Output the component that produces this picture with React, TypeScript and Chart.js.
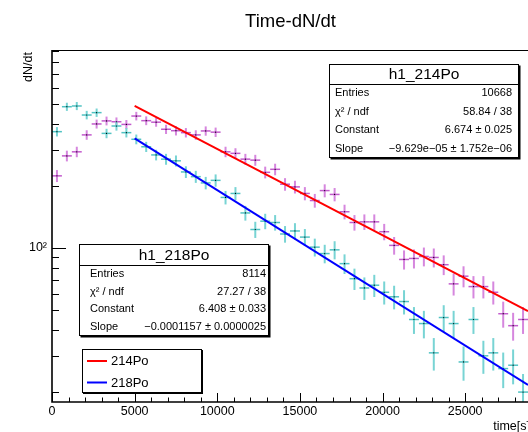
import React, { useEffect, useRef } from 'react';
import { Chart, registerables } from 'chart.js';

Chart.register(...registerables);

// ---------- data ----------
const binCenters = [
  300, 900, 1500, 2100, 2700, 3300, 3900, 4500, 5100, 5700, 6300, 6900,
  7500, 8100, 8700, 9300, 9900, 10500, 11100, 11700, 12300, 12900, 13500, 14100,
  14700, 15300, 15900, 16500, 17100, 17700, 18300, 18900, 19500, 20100, 20700, 21300,
  21900, 22500, 23100, 23700, 24300, 24900, 25500, 26100, 26700, 27300, 27900, 28500,
];
const binWidth = 600;

const counts214Po = [
  224, 280, 293, 354, 400, 414, 410, 398, 437, 415, 408, 377,
  371, 363, 354, 370, 365, 293, 288, 270, 267, 233, 241, 204,
  198, 184, 170, 190, 182, 150, 133, 134, 134, 120, 103, 88,
  89, 91, 90, 83, 67, 73, 65, 65, 61, 48, 42, 45,
];
const counts218Po = [
  367, 485, 489, 442, 454, 360, 391, 363, 337, 310, 283, 270,
  265, 234, 222, 207, 213, 176, 184, 148, 123, 135, 133, 117,
  121, 113, 101, 94, 98, 84, 71, 64, 66, 61, 58, 55,
  45, 43, 31, 46, 43, 28, 45, 30, 31, 26, 27, 20,
];

const fitRange = [5000, 28800];
const fit214Constant = 6.674;
const fit214Slope = -9.629e-5;
const fit218Constant = 6.408;
const fit218Slope = -0.0001157;

const xMin = 0;
const xMax = 28800;
const yMin = 17.9;
const yMax = 914;
const xMajorTicks = [0, 5000, 10000, 15000, 20000, 25000];
const xTickLabels = ['0', '5000', '10000', '15000', '20000', '25000'];
const xMinorTicks = [
  1000, 2000, 3000, 4000, 6000, 7000, 8000, 9000, 11000, 12000, 13000, 14000,
  16000, 17000, 18000, 19000, 21000, 22000, 23000, 24000, 26000, 27000, 28000,
];
const yMajorTicks = [100];
const yMinorTicks = [20, 30, 40, 50, 60, 70, 80, 90, 200, 300, 400, 500, 600, 700, 800, 900];

const stats214 = {
  title: 'h1_214Po',
  rows: [
    ['Entries', '10668'],
    ['\u03C7\u00B2 / ndf', '58.84 / 38'],
    ['Constant', '6.674 \u00B1 0.025'],
    ['Slope', '\u22129.629e\u221205 \u00B1 1.752e\u221206'],
  ],
};
const stats218 = {
  title: 'h1_218Po',
  rows: [
    ['Entries', '8114'],
    ['\u03C7\u00B2 / ndf', '27.27 / 38'],
    ['Constant', '6.408 \u00B1 0.033'],
    ['Slope', '\u22120.0001157 \u00B1 0.0000025'],
  ],
};
const legendLabels = ['214Po', '218Po'];

// ---------- style ----------
const FONT = '"Liberation Sans", Arial, Helvetica, sans-serif';
const MAGENTA_V = 'rgb(214, 135, 222)';
const MAGENTA_H = 'rgb(195, 90, 205)';
const CYAN_V = 'rgb(120, 212, 212)';
const CYAN_H = 'rgb(80, 195, 195)';
const RED = '#ff0000';
const BLUE = '#0000ff';

function drawStatsBox(ctx: CanvasRenderingContext2D, b: any, s: any) {
  const w = b.x2 - b.x1;
  const h = b.y2 - b.y1;
  ctx.fillStyle = '#000';
  ctx.fillRect(b.x1 + 1.5, b.y1 + 1.5, w, h);
  ctx.fillStyle = '#fff';
  ctx.fillRect(b.x1, b.y1, w, h);
  ctx.strokeStyle = '#000';
  ctx.lineWidth = 1;
  ctx.strokeRect(b.x1 + 0.5, b.y1 + 0.5, w - 1, h - 1);
  ctx.beginPath();
  ctx.moveTo(b.x1, b.sep + 0.5);
  ctx.lineTo(b.x2, b.sep + 0.5);
  ctx.stroke();
  ctx.fillStyle = '#000';
  ctx.textBaseline = 'middle';
  ctx.textAlign = 'center';
  ctx.font = `15.5px ${FONT}`;
  ctx.fillText(s.title, (b.x1 + b.x2) / 2, (b.y1 + b.sep) / 2 + 1);
  ctx.font = `11px ${FONT}`;
  const rh = (b.y2 - b.sep) / s.rows.length;
  s.rows.forEach((r: string[], i: number) => {
    const cy = b.sep + (i + 0.5) * rh;
    ctx.textAlign = 'left';
    ctx.fillText(r[0], b.lx, cy);
    ctx.textAlign = 'right';
    ctx.fillText(r[1], b.rx, cy);
  });
}

const rootPlugin = {
  id: 'rootStyle',
  beforeDatasetsDraw(chart: any) {
    const { ctx, chartArea: a } = chart;
    const x = chart.scales.x;
    const y = chart.scales.y;
    ctx.save();
    ctx.beginPath();
    ctx.rect(a.left, a.top, a.right - a.left, a.bottom - a.top);
    ctx.clip();
    const drawBars = (vals: number[], colV: string, colH: string) => {
      vals.forEach((n, i) => {
        const t = binCenters[i];
        const e = Math.sqrt(n);
        const px = x.getPixelForValue(t);
        const py = y.getPixelForValue(n);
        const x0 = x.getPixelForValue(t - binWidth / 2);
        const x1 = x.getPixelForValue(t + binWidth / 2);
        const yt = y.getPixelForValue(n + e);
        const yb = y.getPixelForValue(Math.max(n - e, 0.5));
        ctx.strokeStyle = colV;
        ctx.lineWidth = 2;
        ctx.beginPath();
        ctx.moveTo(px, yt);
        ctx.lineTo(px, yb);
        ctx.stroke();
        ctx.strokeStyle = colH;
        ctx.lineWidth = 1.5;
        ctx.beginPath();
        ctx.moveTo(x0, py);
        ctx.lineTo(x1, py);
        ctx.stroke();
      });
    };
    drawBars(counts214Po, MAGENTA_V, MAGENTA_H);
    drawBars(counts218Po, CYAN_V, CYAN_H);
    ctx.restore();
  },
  afterDraw(chart: any) {
    const { ctx, chartArea: a } = chart;
    const x = chart.scales.x;
    const y = chart.scales.y;
    ctx.save();
    // frame
    ctx.strokeStyle = '#000';
    ctx.lineWidth = 1;
    ctx.beginPath();
    ctx.moveTo(a.left, a.top + 0.5);
    ctx.lineTo(a.right, a.top + 0.5);
    ctx.stroke();
    ctx.lineWidth = 1.6;
    ctx.beginPath();
    ctx.moveTo(a.left, a.top);
    ctx.lineTo(a.left, a.bottom);
    ctx.lineTo(a.right, a.bottom);
    ctx.stroke();
    // ticks
    ctx.lineWidth = 1;
    ctx.beginPath();
    xMajorTicks.forEach((t) => {
      const px = Math.round(x.getPixelForValue(t)) + 0.5;
      ctx.moveTo(px, a.bottom);
      ctx.lineTo(px, a.bottom - 9);
    });
    xMinorTicks.forEach((t) => {
      const px = Math.round(x.getPixelForValue(t)) + 0.5;
      ctx.moveTo(px, a.bottom);
      ctx.lineTo(px, a.bottom - 4.5);
    });
    yMajorTicks.forEach((v) => {
      const py = Math.round(y.getPixelForValue(v)) + 0.5;
      ctx.moveTo(a.left, py);
      ctx.lineTo(a.left + 14, py);
    });
    yMinorTicks.forEach((v) => {
      const py = Math.round(y.getPixelForValue(v)) + 0.5;
      ctx.moveTo(a.left, py);
      ctx.lineTo(a.left + 7, py);
    });
    ctx.stroke();

    // x tick labels
    ctx.fillStyle = '#000';
    ctx.font = `12.5px ${FONT}`;
    ctx.textAlign = 'center';
    ctx.textBaseline = 'middle';
    xMajorTicks.forEach((t, i) => {
      ctx.fillText(xTickLabels[i], x.getPixelForValue(t), 411.5);
    });

    // title
    ctx.font = `18.5px ${FONT}`;
    ctx.textAlign = 'center';
    ctx.textBaseline = 'middle';
    ctx.fillText('Time-dN/dt', 290.5, 22);

    // axis titles
    ctx.font = `12.5px ${FONT}`;
    ctx.textAlign = 'right';
    ctx.fillText('time[s]', 530, 427);
    ctx.save();
    ctx.translate(28.5, 52);
    ctx.rotate(-Math.PI / 2);
    ctx.textAlign = 'right';
    ctx.textBaseline = 'middle';
    ctx.fillText('dN/dt', 0, 0);
    ctx.restore();

    // stats boxes
    drawStatsBox(ctx, { x1: 329, y1: 64, x2: 519, y2: 158, sep: 84, lx: 335, rx: 512 }, stats214);
    drawStatsBox(ctx, { x1: 79, y1: 244, x2: 269, y2: 336, sep: 265, lx: 90, rx: 266 }, stats218);

    // legend
    const lx1 = 82, ly1 = 349, lx2 = 202, ly2 = 393;
    ctx.fillStyle = '#000';
    ctx.fillRect(lx1 + 1, ly1 + 1, lx2 - lx1, ly2 - ly1);
    ctx.fillStyle = '#fff';
    ctx.fillRect(lx1, ly1, lx2 - lx1, ly2 - ly1);
    ctx.lineWidth = 1;
    ctx.strokeStyle = '#000';
    ctx.strokeRect(lx1 + 0.5, ly1 + 0.5, lx2 - lx1 - 1, ly2 - ly1 - 1);
    const entries = [
      { label: legendLabels[0], color: RED, y: 361 },
      { label: legendLabels[1], color: BLUE, y: 382.5 },
    ];
    ctx.font = `13px ${FONT}`;
    ctx.textAlign = 'left';
    ctx.textBaseline = 'middle';
    entries.forEach((e) => {
      ctx.strokeStyle = e.color;
      ctx.lineWidth = 2;
      ctx.beginPath();
      ctx.moveTo(87, e.y);
      ctx.lineTo(107, e.y);
      ctx.stroke();
      ctx.fillStyle = '#000';
      ctx.fillText(e.label, 111, e.y + 0.5);
    });
    ctx.restore();
  },
};

export default function App() {
  const ref = useRef<HTMLCanvasElement | null>(null);
  useEffect(() => {
    if (!ref.current) return;
    const fitLine = (c: number, s: number) => fitRange.map((t) => ({ x: t, y: Math.exp(c + s * t) }));
    const chart = new Chart(ref.current, {
      type: 'scatter',
      data: {
        datasets: [
          {
            type: 'line',
            label: '214Po fit',
            data: fitLine(fit214Constant, fit214Slope),
            borderColor: RED,
            borderWidth: 2,
            pointRadius: 0,
            fill: false,
          } as any,
          {
            type: 'line',
            label: '218Po fit',
            data: fitLine(fit218Constant, fit218Slope),
            borderColor: BLUE,
            borderWidth: 2,
            pointRadius: 0,
            fill: false,
          } as any,
          {
            label: '214Po',
            data: binCenters.map((t, i) => ({ x: t, y: counts214Po[i] })),
            pointRadius: 0.6,
            pointBackgroundColor: '#000',
            pointBorderWidth: 0,
            showLine: false,
          },
          {
            label: '218Po',
            data: binCenters.map((t, i) => ({ x: t, y: counts218Po[i] })),
            pointRadius: 0.6,
            pointBackgroundColor: '#000',
            pointBorderWidth: 0,
            showLine: false,
          },
        ],
      },
      options: {
        responsive: false,
        maintainAspectRatio: false,
        animation: false,
        devicePixelRatio: 1,
        layout: { padding: { top: 50, right: 2, left: 0, bottom: 0 } },
        plugins: {
          legend: { display: false },
          title: { display: false },
          tooltip: { enabled: false },
        },
        scales: {
          x: {
            type: 'linear',
            min: xMin,
            max: xMax,
            grid: { display: false, drawTicks: false },
            border: { display: false },
            ticks: { display: false },
            afterFit: (s: any) => {
              s.height = 30;
            },
          },
          y: {
            type: 'logarithmic',
            min: yMin,
            max: yMax,
            grid: { display: false, drawTicks: false },
            border: { display: false },
            ticks: {
              autoSkip: false,
              padding: 5,
              color: '#000',
              font: { family: FONT, size: 12.5 },
              callback: (v: any) => (Math.abs(Number(v) - 100) < 1e-6 ? '10\u00B2' : ''),
            },
            afterFit: (s: any) => {
              s.width = 52;
            },
          },
        },
      } as any,
      plugins: [rootPlugin],
    });
    return () => chart.destroy();
  }, []);
  return (
    <div style={{ position: 'fixed', left: 0, top: 0, width: 528, height: 432, overflow: 'hidden', background: '#fff' }}>
      <canvas ref={ref} width={532} height={432} style={{ display: 'block', width: 532, height: 432 }} />
    </div>
  );
}
